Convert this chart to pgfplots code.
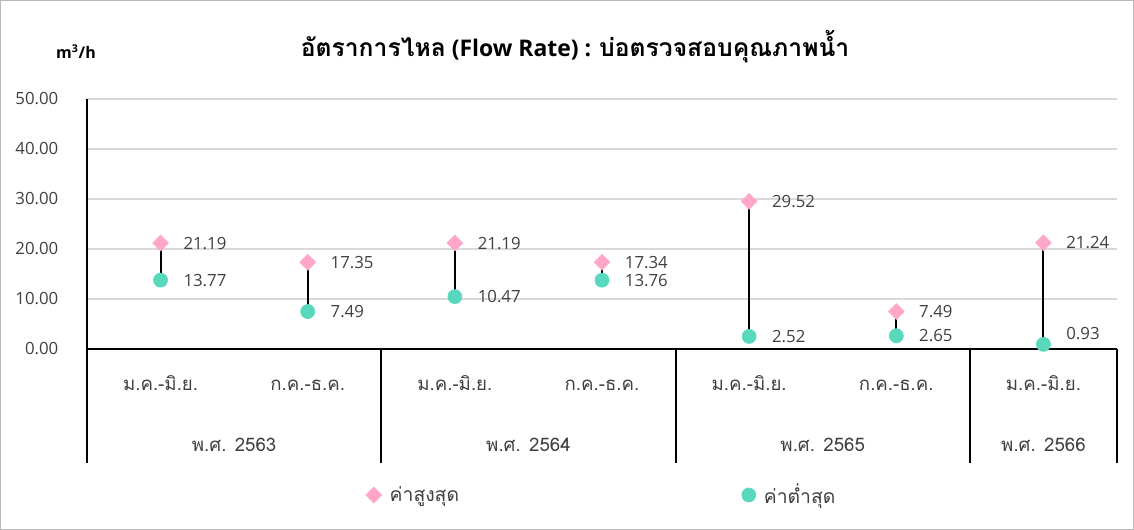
\documentclass[border=0pt]{standalone}
\usepackage{pgfplots}
\pgfplotsset{compat=1.18}
\usepackage{fontspec}
\setmainfont{Open Sans}
\newfontfamily\thai[Script=Thai]{Loma}
\definecolor{pinkm}{RGB}{255,166,201}
\definecolor{tealm}{RGB}{88,217,190}
\definecolor{gridc}{RGB}{217,217,217}
\definecolor{labc}{RGB}{64,64,64}
\pgfplotstableread{
x hi lo dyhi dylo
0 21.19 13.77 0 0
1 17.35 7.49 0 0
2 21.19 10.47 0 0
3 17.34 13.76 0 0
4 29.52 2.52 0 0
5 7.49 2.65 0 0
6 21.24 0.93 0 8
}\datatab
\begin{document}
\begin{tikzpicture}[x=0.75pt,y=0.75pt]
\begin{axis}[
  width=772.5pt, height=187.5pt, scale only axis,
  xmin=-0.5, xmax=6.5, ymin=0, ymax=50,
  clip=false,
  axis lines*=left,
  axis line style={-, black, line width=1.5pt},
  x axis line style={-}, y axis line style={-},
  ytick={0,10,...,50},
  ymajorgrids, grid style={gridc, line width=1.2pt},
  major tick length=0pt,
  /pgf/number format/assume math mode=true,
  /pgf/number format/fixed, /pgf/number format/fixed zerofill, /pgf/number format/precision=2,
  font=\fontsize{12.6}{15}\selectfont,
  every y tick label/.append style={anchor=east, text=labc},
  every y tick label/.append style={xshift=-18pt},
  xtick={0,...,6},
  xticklabels={ม.ค.-มิ.ย., ก.ค.-ธ.ค., ม.ค.-มิ.ย., ก.ค.-ธ.ค., ม.ค.-มิ.ย., ก.ค.-ธ.ค., ม.ค.-มิ.ย.},
  every x tick label/.append style={anchor=base, inner sep=0pt, text=labc, font=\thai\fontsize{14}{16}\selectfont},
  every x tick label/.append style={yshift=-31.5pt},
  legend columns=2,
  legend style={at={(0.5,-0.584)}, anchor=center, draw=none, fill=none,
    font=\thai\fontsize{14.5}{17}\selectfont, text=labc,
    /tikz/every odd column/.style={column sep=4pt},
    /tikz/column 2/.style={column sep=210pt}},
  legend image code/.code={\draw plot coordinates {(0pt,0pt)};},
  lbl/.style={nodes near coords={\pgfmathprintnumber[fixed,fixed zerofill,precision=2]{\pgfplotspointmeta}},
  every node near coord/.append style={anchor=west, inner sep=0pt, xshift=17pt, text=labc, font=\fontsize{12.6}{15}\selectfont}},
]
\addplot[black, line width=1.5pt, forget plot, unbounded coords=jump, mark=none] coordinates {
(0,13.77) (0,21.19) (0,nan)
(1,7.49) (1,17.35) (1,nan)
(2,10.47) (2,21.19) (2,nan)
(3,13.76) (3,17.34) (3,nan)
(4,2.52) (4,29.52) (4,nan)
(5,2.65) (5,7.49) (5,nan)
(6,0.93) (6,21.24)
};
\addplot[only marks, lbl, mark=square*, mark size=4.2pt, mark options={rotate=45, fill=pinkm, draw=pinkm},
  visualization depends on={\thisrow{dyhi} \as \dy},
  every node near coord/.append style={yshift=\dy pt}] table[x=x, y=hi] {\datatab};
\addlegendentry{ค่าสูงสุด}
\addplot[only marks, lbl, mark=*, mark size=5.3pt, mark options={fill=tealm, draw=tealm},
  visualization depends on={\thisrow{dylo} \as \dy},
  every node near coord/.append style={yshift=\dy pt}] table[x=x, y=lo] {\datatab};
\addlegendentry{ค่าต่ำสุด}
\draw[black, line width=1.5pt] (axis cs:-0.5,0) -- (axis cs:-0.5,-22.8);
\draw[black, line width=1.5pt] (axis cs:1.5,0) -- (axis cs:1.5,-22.8);
\draw[black, line width=1.5pt] (axis cs:3.5,0) -- (axis cs:3.5,-22.8);
\draw[black, line width=1.5pt] (axis cs:5.5,0) -- (axis cs:5.5,-22.8);
\draw[black, line width=1.5pt] (axis cs:6.5,0) -- (axis cs:6.5,-22.8);
\node[anchor=base, text=labc, font=\thai\fontsize{14}{16}\selectfont] at (axis cs:0.5,-20.6) {พ.ศ. 2563};
\node[anchor=base, text=labc, font=\thai\fontsize{14}{16}\selectfont] at (axis cs:2.5,-20.6) {พ.ศ. 2564};
\node[anchor=base, text=labc, font=\thai\fontsize{14}{16}\selectfont] at (axis cs:4.5,-20.6) {พ.ศ. 2565};
\node[anchor=base, text=labc, font=\thai\fontsize{14}{16}\selectfont] at (axis cs:6,-20.6) {พ.ศ. 2566};
\end{axis}
\draw[gray!55, line width=0.75pt] (-86.5,-180.5) rectangle (1046.5,348.5);
\node[font=\bfseries\fontsize{17.2}{20}\selectfont] at (488,302) {{\thai\fontsize{18.5}{20}\selectfont อัตราการไหล} (Flow Rate) : {\thai\fontsize{18.5}{20}\selectfont บ่อตรวจสอบคุณภาพน้ำ}};
\node[font=\bfseries\fontsize{12}{14}\selectfont] at (-11,297) {m\textsuperscript{3}/h};
\end{tikzpicture}
\end{document}
